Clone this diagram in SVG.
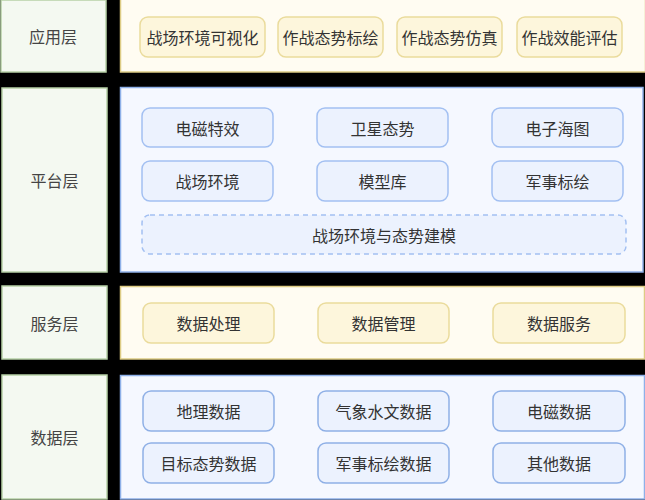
<svg xmlns="http://www.w3.org/2000/svg" width="645" height="500" viewBox="0 0 645 500">
<style>
text{font-family:"Noto Sans CJK SC","Noto Sans",sans-serif;font-size:16px;text-anchor:middle;dominant-baseline:central;fill:#333}
.lab{fill:#f4f9f1;stroke:#b7d1a7;stroke-width:1.5}
.lab-t{fill:#444}
.ypan{fill:#fffcf2;stroke:#ddcc85;stroke-width:1.5}
.yit{fill:#fdf6dc;stroke:#eadb9c;stroke-width:1.5}
.bpan{fill:#f5f8ff;stroke:#8eb0e8;stroke-width:1.5}
.bit{fill:#ecf2fe;stroke:#a3c0f2;stroke-width:1.5}
.dit{fill:#ecf2fe;stroke:#8fb0e6;stroke-width:1.5}
.bdash{fill:#ecf2fe;stroke:#a3c0f2;stroke-width:1.5;stroke-dasharray:5 4}
</style>
<rect width="645" height="500" fill="#000"/>
<g id="connectors"></g>
<g id="layer-app">
<rect class="lab" x="1" y="0" width="105" height="72"/><text class="lab-t" x="53" y="36">应用层</text>
<rect class="ypan" x="120.5" y="-1" width="525" height="73"/>
</g>
<g id="app-1"><rect class="yit" x="140" y="17" width="125" height="40" rx="8"/><text x="202.5" y="37">战场环境可视化</text></g>
<g id="app-2"><rect class="yit" x="278" y="17" width="105" height="40" rx="8"/><text x="330.5" y="37">作战态势标绘</text></g>
<g id="app-3"><rect class="yit" x="397" y="17" width="105" height="40" rx="8"/><text x="449.5" y="37">作战态势仿真</text></g>
<g id="app-4"><rect class="yit" x="517" y="17" width="105" height="40" rx="8"/><text x="569.5" y="37">作战效能评估</text></g>

<g id="layer-platform">
<rect class="lab" x="2" y="88" width="105" height="184"/><text class="lab-t" x="54.5" y="180">平台层</text>
<rect class="bpan" x="120.5" y="87.5" width="522.5" height="184.5"/>
</g>
<g id="pf-1"><rect class="bit" x="142" y="108" width="131" height="39" rx="8"/><text x="207.5" y="127.5">电磁特效</text></g>
<g id="pf-2"><rect class="bit" x="317" y="108" width="131" height="39" rx="8"/><text x="382.5" y="127.5">卫星态势</text></g>
<g id="pf-3"><rect class="bit" x="492" y="108" width="131" height="39" rx="8"/><text x="557.5" y="127.5">电子海图</text></g>
<g id="pf-4"><rect class="bit" x="142" y="161" width="131" height="40" rx="8"/><text x="207.5" y="181">战场环境</text></g>
<g id="pf-5"><rect class="bit" x="317" y="161" width="131" height="40" rx="8"/><text x="382.5" y="181">模型库</text></g>
<g id="pf-6"><rect class="bit" x="492" y="161" width="131" height="40" rx="8"/><text x="557.5" y="181">军事标绘</text></g>
<g id="pf-7"><rect class="bdash" x="142" y="215" width="484" height="39" rx="8"/><text x="384" y="234.5">战场环境与态势建模</text></g>

<g id="layer-service">
<rect class="lab" x="2" y="286" width="105" height="73"/><text class="lab-t" x="54.5" y="322.5">服务层</text>
<rect class="ypan" x="120.5" y="286.5" width="524" height="72.5"/>
</g>
<g id="sv-1"><rect class="yit" x="143" y="303" width="131" height="40" rx="8"/><text x="208.5" y="323">数据处理</text></g>
<g id="sv-2"><rect class="yit" x="318" y="303" width="131" height="40" rx="8"/><text x="383.5" y="323">数据管理</text></g>
<g id="sv-3"><rect class="yit" x="493" y="303" width="132" height="40" rx="8"/><text x="559" y="323">数据服务</text></g>

<g id="layer-data">
<rect class="lab" x="2" y="375" width="105" height="124"/><text class="lab-t" x="54.5" y="437">数据层</text>
<rect class="bpan" x="120.5" y="375.5" width="524" height="123.5"/>
</g>
<g id="dt-1"><rect class="dit" x="143" y="391" width="131" height="40" rx="8"/><text x="208.5" y="411">地理数据</text></g>
<g id="dt-2"><rect class="dit" x="318" y="391" width="131" height="40" rx="8"/><text x="383.5" y="411">气象水文数据</text></g>
<g id="dt-3"><rect class="dit" x="493" y="391" width="132" height="40" rx="8"/><text x="559" y="411">电磁数据</text></g>
<g id="dt-4"><rect class="dit" x="143" y="443" width="131" height="40" rx="8"/><text x="208.5" y="463">目标态势数据</text></g>
<g id="dt-5"><rect class="dit" x="318" y="443" width="131" height="40" rx="8"/><text x="383.5" y="463">军事标绘数据</text></g>
<g id="dt-6"><rect class="dit" x="493" y="443" width="132" height="40" rx="8"/><text x="559" y="463">其他数据</text></g>
</svg>
